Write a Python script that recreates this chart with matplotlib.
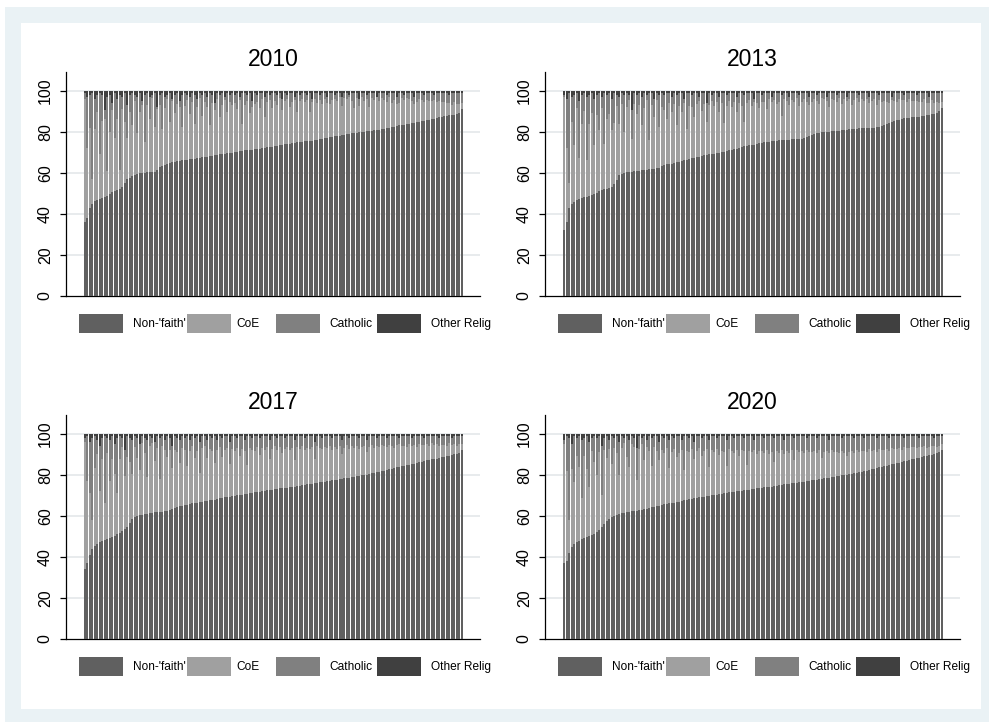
import matplotlib
matplotlib.use("Agg")
import matplotlib.pyplot as plt
from matplotlib.patches import Rectangle
import numpy as np

plt.rcParams['font.family'] = ['Liberation Sans', 'DejaVu Sans']

years = ["2010", "2013", "2017", "2020"]
series_names = ["Non-'faith'", "CoE", "Catholic", "Other Relig"]
series_colors = ["#606060", "#a0a0a0", "#808080", "#404040"]

# ---------------- 2010 ----------------
nonfaith_2010 = [
    36, 38, 43, 45, 46.5, 47, 47.3, 47.6, 48.3, 49, 49.8, 50.6, 51.2, 51.6, 52.4, 53.3, 55, 57, 57.8, 58.4,
    59, 59.4, 59.8, 60, 60.1, 60.3, 60.4, 60.5, 60.7, 61.4, 63, 63.5, 63.9, 64.3, 64.8, 65.2, 65.5, 65.8, 66.1, 66.4,
    66.5, 66.6, 66.8, 66.9, 67, 67.2, 67.4, 67.6, 67.8, 68, 68.2, 68.4, 68.6, 68.9, 69.1, 69.3, 69.5, 69.6, 69.8, 70,
    70.2, 70.4, 70.6, 70.8, 71, 71.1, 71.2, 71.3, 71.5, 71.7, 71.9, 72.1, 72.3, 72.5, 72.7, 72.9, 73.1, 73.3, 73.6, 73.9,
    74, 74.2, 74.4, 74.6, 74.8, 75, 75.1, 75.3, 75.5, 75.6, 75.7, 75.8, 76, 76.2, 76.5, 76.8, 77.1, 77.3, 77.5, 77.7,
    77.9, 78.1, 78.3, 78.5, 78.7, 78.9, 79.1, 79.3, 79.5, 79.7, 79.9, 80.1, 80.2, 80.3, 80.4, 80.6, 80.8, 81, 81.2, 81.4,
    81.6, 81.9, 82.1, 82.3, 82.6, 82.9, 83.2, 83.4, 83.6, 83.8, 84, 84.2, 84.5, 84.8, 85.1, 85.4, 85.6, 85.8, 86, 86.3,
    86.6, 86.9, 87.2, 87.5, 87.8, 88, 88.2, 88.4, 88.5, 88.6, 89.5, 91.2,
]
coe_2010 = [
    60, 34, 39, 12, 35, 43, 22, 38, 38, 12, 30, 40, 26, 35, 9, 38, 30, 20, 32, 25,
    36, 20, 30, 33, 15, 33, 26, 36, 22, 30, 30, 18, 28, 32, 20, 30, 24, 28, 26, 16,
    26, 29, 22, 28, 17, 25, 29, 20, 27, 24, 15, 26, 22, 27, 18, 24, 26, 20, 25, 23,
    24, 21, 25, 13, 22, 24, 18, 21, 22, 23, 20, 24, 15, 22, 23, 19, 22, 20, 23, 17,
    21, 22, 18, 20, 21, 15, 20, 21, 19, 20, 14, 19, 20, 18, 19, 17, 19, 17, 16, 18,
    18, 17, 19, 14, 18, 17, 18, 16, 12, 17, 13, 17, 15, 16, 12, 16, 15, 16, 14, 15,
    14, 13, 15, 12, 13, 11, 11, 13, 12, 13, 12, 11, 9, 10, 11, 10, 9, 10, 9, 9,
    9, 8, 8, 7, 7, 6, 6, 5, 6, 5, 4, 3,
]
other_2010 = [
    1, 3, 2, 1, 4, 2, 1, 2, 9, 3, 2, 6, 1, 4, 2, 3, 1, 7, 2, 1,
    2, 3, 1, 5, 2, 1, 3, 2, 1, 8, 2, 1, 3, 2, 1, 4, 2, 1, 5, 2,
    1, 2, 3, 1, 2, 4, 1, 2, 1, 3, 1, 2, 6, 1, 2, 1, 3, 1, 2, 1,
    2, 1, 3, 1, 1, 2, 1, 5, 1, 2, 1, 1, 3, 1, 2, 1, 1, 2, 1, 4,
    1, 2, 1, 1, 3, 1, 2, 1, 1, 2, 1, 4, 1, 1, 2, 1, 1, 3, 1, 1,
    2, 1, 1, 3, 1, 1, 2, 1, 1, 1, 4, 1, 1, 2, 1, 1, 1, 3, 1, 1,
    1, 2, 1, 1, 1, 3, 1, 1, 2, 1, 1, 1, 3, 1, 1, 1, 2, 1, 1, 1,
    2, 1, 1, 1, 1, 1, 2, 1, 1, 1, 1, 1,
]

# ---------------- 2013 ----------------
nonfaith_2013 = [
    32, 36, 43, 45, 45.8, 46.6, 47.2, 47.7, 48.1, 48.4, 48.7, 49.2, 49.8, 50.4, 51, 51.7, 52.1, 52.4, 52.7, 53.2,
    54.5, 56.5, 59, 59.6, 60.1, 60.3, 60.5, 60.6, 60.8, 60.9, 61.1, 61.3, 61.5, 61.7, 61.9, 62.1, 62.2, 62.4, 62.7, 63.4,
    64, 64.2, 64.4, 64.6, 64.8, 65.2, 65.6, 66, 66.3, 66.6, 66.9, 67.1, 67.4, 67.7, 68, 68.3, 68.6, 68.9, 69.1, 69.3,
    69.5, 69.7, 69.9, 70.2, 70.5, 70.8, 71.1, 71.4, 71.6, 71.9, 72.2, 72.6, 73, 73.3, 73.5, 73.7, 73.9, 74.2, 74.5, 74.7,
    74.9, 75.1, 75.3, 75.5, 75.6, 75.7, 75.9, 76, 76.1, 76.2, 76.3, 76.4, 76.5, 76.6, 76.7, 76.8, 76.9, 77.5, 78.2, 78.7,
    79, 79.3, 79.6, 79.8, 80, 80.1, 80.2, 80.3, 80.5, 80.6, 80.7, 80.8, 80.9, 81.1, 81.3, 81.4, 81.5, 81.6, 81.8, 81.9,
    82, 82, 82.1, 82.1, 82.2, 82.3, 82.5, 82.9, 83.3, 83.8, 84.3, 84.8, 85.3, 85.7, 86.1, 86.5, 86.7, 86.8, 87, 87.1,
    87.2, 87.3, 87.5, 87.7, 87.9, 88.1, 88.3, 88.6, 89, 89.5, 90.2, 91.5,
]
coe_2013 = [
    65, 36, 12, 40, 28, 45, 20, 36, 42, 18, 35, 40, 24, 38, 30, 40, 22, 34, 36, 28,
    30, 36, 25, 34, 20, 32, 35, 16, 33, 28, 32, 22, 30, 34, 14, 31, 25, 33, 20, 29,
    27, 22, 30, 25, 29, 18, 27, 24, 28, 15, 26, 25, 20, 26, 27, 22, 25, 16, 24, 26,
    23, 25, 20, 24, 14, 22, 24, 21, 23, 18, 22, 20, 12, 21, 22, 19, 21, 20, 17, 20,
    20, 16, 21, 19, 20, 18, 19, 12, 20, 19, 17, 19, 18, 20, 16, 18, 19, 17, 15, 16,
    17, 16, 14, 17, 16, 15, 12, 16, 15, 14, 16, 13, 15, 14, 15, 12, 14, 15, 13, 14,
    13, 14, 12, 13, 14, 11, 13, 12, 12, 11, 10, 11, 10, 9, 10, 9, 9, 8, 9, 8,
    8, 8, 7, 7, 8, 6, 6, 7, 5, 5, 4, 3,
]
other_2013 = [
    2, 4, 1, 3, 2, 1, 5, 2, 1, 3, 2, 1, 4, 2, 1, 3, 1, 2, 1, 4,
    1, 2, 3, 1, 2, 1, 2, 9, 1, 2, 1, 3, 1, 2, 1, 1, 4, 1, 2, 1,
    2, 1, 1, 3, 1, 2, 1, 1, 4, 1, 1, 2, 1, 1, 3, 1, 1, 6, 1, 2,
    1, 1, 3, 1, 1, 2, 1, 1, 1, 3, 1, 1, 2, 1, 1, 1, 4, 1, 1, 2,
    1, 1, 1, 3, 1, 1, 1, 2, 1, 1, 3, 1, 1, 1, 2, 1, 1, 1, 3, 1,
    1, 2, 1, 1, 1, 3, 1, 1, 1, 2, 1, 1, 1, 3, 1, 1, 1, 1, 2, 1,
    1, 1, 3, 1, 1, 1, 2, 1, 1, 1, 1, 3, 1, 1, 1, 1, 2, 1, 1, 1,
    1, 2, 1, 1, 1, 1, 3, 1, 1, 1, 1, 1,
]

# ---------------- 2017 ----------------
nonfaith_2017 = [
    34, 37, 41, 44, 45.5, 46.5, 47.3, 47.8, 48.2, 48.6, 49.1, 49.7, 50.3, 51, 51.8, 52.6, 53.5, 54.7, 56.5, 58.5,
    59.6, 60.1, 60.4, 60.7, 61, 61.2, 61.4, 61.6, 61.8, 62, 62.1, 62.2, 62.3, 62.6, 63.1, 63.6, 64, 64.4, 64.7, 65,
    65.3, 65.6, 65.9, 66.2, 66.4, 66.6, 66.8, 67, 67.2, 67.4, 67.6, 67.8, 68, 68.3, 68.6, 68.9, 69.1, 69.3, 69.5, 69.7,
    69.9, 70.1, 70.3, 70.5, 70.7, 70.9, 71.1, 71.3, 71.5, 71.7, 71.9, 72.1, 72.3, 72.5, 72.7, 72.9, 73.1, 73.3, 73.5, 73.7,
    73.8, 73.9, 74, 74.2, 74.4, 74.6, 74.8, 75, 75.2, 75.4, 75.6, 75.8, 76, 76.2, 76.4, 76.6, 76.8, 77, 77.2, 77.4,
    77.6, 77.8, 78, 78.2, 78.4, 78.6, 78.8, 79, 79.2, 79.4, 79.6, 79.8, 80, 80.2, 80.5, 80.8, 81, 81.3, 81.6, 81.9,
    82.2, 82.5, 82.8, 83.1, 83.4, 83.7, 84, 84.2, 84.4, 84.7, 85, 85.3, 85.6, 85.9, 86.2, 86.5, 86.8, 87.1, 87.4, 87.6,
    87.8, 88, 88.3, 88.6, 88.9, 89.2, 89.5, 89.8, 90.1, 90.4, 91, 92,
]
coe_2017 = [
    62, 40, 30, 14, 38, 44, 25, 40, 18, 42, 28, 38, 30, 20, 36, 41, 26, 34, 30, 22,
    34, 28, 22, 35, 30, 18, 33, 34, 25, 31, 16, 32, 30, 26, 29, 20, 28, 27, 21, 28,
    27, 19, 26, 28, 22, 25, 14, 26, 27, 21, 25, 24, 18, 24, 25, 20, 23, 24, 16, 23,
    22, 23, 19, 22, 21, 14, 22, 21, 20, 22, 18, 21, 20, 21, 15, 20, 21, 19, 20, 17,
    19, 20, 18, 19, 13, 19, 18, 19, 17, 18, 17, 18, 12, 18, 17, 16, 17, 16, 17, 15,
    16, 15, 16, 12, 15, 16, 14, 15, 14, 15, 13, 14, 14, 11, 13, 14, 12, 13, 12, 13,
    12, 11, 12, 11, 10, 11, 11, 10, 10, 9, 10, 9, 9, 8, 9, 8, 8, 8, 7, 8,
    7, 7, 6, 6, 6, 5, 6, 5, 5, 4, 4, 3,
]
other_2017 = [
    2, 1, 4, 2, 1, 3, 6, 2, 1, 2, 3, 1, 5, 2, 1, 2, 8, 1, 2, 3,
    1, 2, 5, 1, 2, 3, 1, 2, 4, 1, 2, 1, 3, 1, 2, 6, 1, 2, 3, 1,
    2, 1, 3, 1, 2, 1, 4, 1, 1, 3, 1, 2, 1, 3, 1, 2, 1, 1, 4, 1,
    1, 2, 1, 1, 3, 1, 1, 2, 1, 1, 2, 1, 1, 1, 3, 1, 1, 2, 1, 1,
    2, 1, 1, 1, 3, 1, 1, 1, 2, 1, 1, 1, 4, 1, 1, 2, 1, 1, 1, 2,
    1, 1, 1, 3, 1, 1, 2, 1, 1, 1, 2, 1, 1, 3, 1, 1, 1, 2, 1, 1,
    1, 2, 1, 1, 1, 1, 2, 1, 1, 1, 1, 2, 1, 1, 1, 1, 2, 1, 1, 1,
    1, 1, 2, 1, 1, 1, 1, 2, 1, 1, 1, 1,
]

# ---------------- 2020 ----------------
nonfaith_2020 = [
    37, 38, 42, 45, 46.5, 47.3, 48, 48.6, 49.2, 49.8, 50.3, 50.8, 51.4, 52.2, 53.2, 54.5, 56, 57.5, 58.7, 59.5,
    60.1, 60.6, 61, 61.3, 61.6, 61.9, 62.1, 62.3, 62.5, 62.7, 62.9, 63.1, 63.3, 63.6, 63.9, 64.2, 64.5, 64.8, 65.1, 65.4,
    65.7, 66, 66.2, 66.4, 66.6, 66.8, 67, 67.3, 67.6, 67.9, 68.2, 68.5, 68.7, 68.9, 69.1, 69.3, 69.5, 69.7, 69.9, 70.1,
    70.3, 70.5, 70.7, 70.9, 71.1, 71.3, 71.5, 71.7, 71.9, 72, 72.1, 72.3, 72.5, 72.7, 72.9, 73.1, 73.3, 73.5, 73.7, 73.9,
    74, 74.1, 74.2, 74.4, 74.6, 74.8, 75, 75.2, 75.4, 75.6, 75.8, 76, 76.1, 76.2, 76.4, 76.6, 76.8, 77, 77.2, 77.4,
    77.6, 77.8, 78, 78.2, 78.4, 78.6, 78.8, 79, 79.2, 79.4, 79.6, 79.8, 80, 80.2, 80.4, 80.6, 80.8, 81, 81.3, 81.6,
    81.9, 82.2, 82.5, 82.8, 83.1, 83.4, 83.7, 84, 84.3, 84.6, 84.9, 85.2, 85.5, 85.8, 86.1, 86.4, 86.7, 87, 87.3, 87.6,
    87.9, 88.2, 88.5, 88.8, 89.1, 89.4, 89.7, 90, 90.3, 90.6, 91.2, 92,
]
coe_2020 = [
    58, 44, 16, 38, 30, 42, 36, 20, 40, 33, 24, 41, 35, 28, 38, 16, 36, 31, 34, 26,
    33, 30, 19, 32, 34, 27, 22, 33, 31, 15, 30, 32, 24, 30, 28, 20, 29, 27, 22, 27,
    25, 27, 17, 25, 26, 22, 24, 25, 15, 24, 23, 24, 19, 23, 24, 20, 22, 23, 14, 22,
    21, 22, 19, 21, 20, 13, 21, 20, 19, 20, 17, 20, 19, 12, 19, 18, 19, 17, 18, 18,
    17, 18, 16, 17, 12, 17, 16, 17, 15, 16, 15, 16, 11, 16, 15, 15, 14, 15, 14, 14,
    14, 13, 14, 10, 13, 13, 12, 13, 12, 12, 11, 12, 11, 9, 11, 11, 10, 11, 10, 10,
    10, 9, 10, 9, 9, 8, 9, 8, 8, 8, 7, 8, 7, 7, 7, 6, 7, 6, 6, 6,
    6, 5, 5, 5, 5, 4, 4, 4, 4, 3, 3, 3,
]
other_2020 = [
    3, 1, 2, 5, 1, 2, 1, 3, 2, 1, 4, 2, 1, 2, 1, 6, 2, 1, 3, 1,
    2, 1, 4, 1, 2, 1, 3, 1, 2, 7, 1, 2, 1, 3, 1, 2, 1, 1, 4, 1,
    2, 1, 3, 1, 2, 1, 1, 3, 1, 1, 2, 1, 4, 1, 1, 2, 1, 1, 3, 1,
    1, 2, 1, 1, 1, 3, 1, 1, 2, 1, 1, 1, 2, 1, 1, 1, 3, 1, 1, 1,
    2, 1, 1, 1, 2, 1, 1, 1, 3, 1, 1, 1, 2, 1, 1, 1, 1, 2, 1, 1,
    1, 2, 1, 1, 1, 1, 3, 1, 1, 1, 1, 2, 1, 1, 1, 1, 2, 1, 1, 1,
    2, 1, 1, 1, 1, 2, 1, 1, 1, 1, 2, 1, 1, 1, 1, 1, 2, 1, 1, 1,
    1, 1, 2, 1, 1, 1, 1, 1, 2, 1, 1, 1,
]

panel_data = {
    "2010": (nonfaith_2010, coe_2010, other_2010),
    "2013": (nonfaith_2013, coe_2013, other_2013),
    "2017": (nonfaith_2017, coe_2017, other_2017),
    "2020": (nonfaith_2020, coe_2020, other_2020),
}
for k, v in panel_data.items():
    for arr in v:
        assert len(arr) == 152, (k, len(arr))

W, H = 989, 722
fig = plt.figure(figsize=(W / 100, H / 100), dpi=100)
fig.patch.set_facecolor("white")


def fr(x0, y0, x1, y1):
    """pixel box (top-left origin) -> figure fraction [l, b, w, h]"""
    return [x0 / W, 1 - y1 / H, (x1 - x0) / W, (y1 - y0) / H]


# outer light bluish frame and inner white plot region
b = fr(5, 7, 989, 722)
fig.add_artist(Rectangle((b[0], b[1]), b[2], b[3], transform=fig.transFigure,
                         facecolor="#eaf2f5", edgecolor="none", zorder=-10))
b = fr(21, 23, 981, 709)
fig.add_artist(Rectangle((b[0], b[1]), b[2], b[3], transform=fig.transFigure,
                         facecolor="white", edgecolor="none", zorder=-9))

panel_boxes = {
    "2010": (66, 72, 480, 296),
    "2013": (545, 72, 960, 296),
    "2017": (66, 415, 480, 639),
    "2020": (545, 415, 960, 639),
}

for year in years:
    x0, y0, x1, y1 = panel_boxes[year]
    ax = fig.add_axes(fr(x0, y0, x1, y1))
    ax.set_facecolor("none")
    nf, coe, oth = (np.array(a, dtype=float) for a in panel_data[year])
    cath = np.clip(100 - nf - coe - oth, 0, None)
    x = np.arange(len(nf))
    bottom = np.zeros_like(nf)
    for vals, col in zip([nf, coe, cath, oth], series_colors):
        ax.bar(x, vals, bottom=bottom, width=0.8, color=col, linewidth=0,
               antialiased=False, zorder=3)
        bottom = bottom + vals
    ax.set_xlim(-7.6, 158.3)
    ax.set_ylim(0, 109.3)
    ax.set_yticks([0, 20, 40, 60, 80, 100])
    ax.set_yticklabels(["0", "20", "40", "60", "80", "100"], rotation=90, va="center")
    ax.tick_params(axis="y", length=4.5, width=0.9, pad=5, labelsize=11.5, colors="black")
    ax.set_xticks([])
    for yv in [20, 40, 60, 80, 100]:
        ax.axhline(yv, color="#e2e6e8", linewidth=1.1, zorder=1)
    for s in ["top", "right"]:
        ax.spines[s].set_visible(False)
    ax.spines["left"].set_linewidth(0.9)
    ax.spines["bottom"].set_linewidth(0.9)
    ax.set_title(year, fontsize=16.5, pad=4)

    # legend row below each panel
    sw_off = [13, 121, 210, 311]
    tx_off = [67, 170, 263, 365]
    for name, col, so, to in zip(series_names, series_colors, sw_off, tx_off):
        bb = fr(x0 + so, y1 + 18, x0 + so + 44, y1 + 37)
        fig.add_artist(Rectangle((bb[0], bb[1]), bb[2], bb[3], transform=fig.transFigure,
                                 facecolor=col, edgecolor="none"))
        fig.text((x0 + to) / W, 1 - (y1 + 28) / H, name, fontsize=8.6,
                 ha="left", va="center")

fig.savefig("out.png", dpi=100)
